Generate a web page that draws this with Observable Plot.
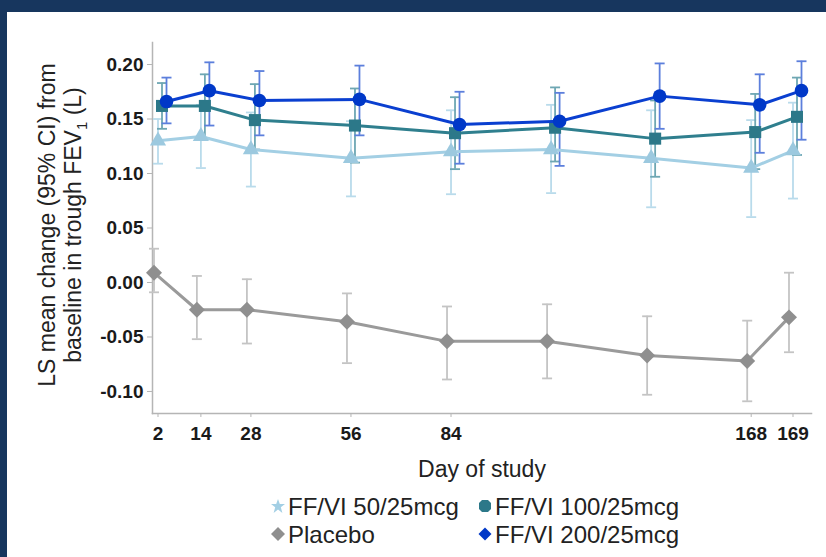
<!DOCTYPE html>
<html>
<head>
<meta charset="utf-8">
<script src="https://cdn.jsdelivr.net/npm/d3@7"></script>
<script src="https://cdn.jsdelivr.net/npm/@observablehq/plot@0.6"></script>
<style>
  html { margin: 0; padding: 0; background: #fff; overflow: hidden; }
  body { margin: 0; padding: 0; background: #fff; width: 826px; height: 557px; position: relative; overflow: hidden; font-family: "Liberation Sans", Arial, sans-serif; }
  .bar-top { position: absolute; left: 0; top: 0; width: 826px; height: 12px; background: #17365e; z-index: 5; }
  .bar-left { position: absolute; left: 0; top: 0; width: 7px; height: 557px; background: #17365e; z-index: 5; }
  .cover-right { position: absolute; left: 813px; top: 12px; width: 40px; height: 560px; background: #fff; z-index: 4; }
  #chart { position: absolute; left: 0; top: 0; width: 826px; height: 450px; }
  #chart svg { display: block; max-width: none !important; }
  #chart svg [aria-label="y-axis tick label"] text,
  #chart svg [aria-label="x-axis tick label"] text { font-size: 19px; font-weight: bold; fill: #1a1a1a; }
  .ytitle { position: absolute; left: 0; top: 0; width: 360px; text-align: center; font-size: 23px; line-height: 26px; color: #222;
            transform-origin: 0 0; transform: translate(34px, 405px) rotate(-90deg); white-space: nowrap; }
  .xtitle { position: absolute; left: 282px; width: 400px; top: 456px; text-align: center; font-size: 23px; color: #222; }
  .leg { position: absolute; font-size: 24px; color: #222; white-space: nowrap; line-height: 28px; }
  .leg svg { position: absolute; left: -17px; top: 6px; }
</style>
</head>
<body>
<div class="bar-top"></div>
<div class="bar-left"></div>
<div class="cover-right"></div>
<div id="chart"></div>
<div class="ytitle">LS mean change (95% CI) from<br>baseline in trough FEV<sub style="font-size:15px">1</sub> (L)</div>
<div class="xtitle">Day of study</div>
<div id="legend"></div>
<script>
// ---- data ----
const days = [2, 14, 28, 56, 84, 112, 140, 168, 169];
const xTickDays = [2, 14, 28, 56, 84, 168, 169];
const yTicks = [-0.10, -0.05, 0.00, 0.05, 0.10, 0.15, 0.20];

const seriesNames = ["FF/VI 50/25mcg", "FF/VI 100/25mcg", "Placebo", "FF/VI 200/25mcg"];

const placeboMean = [0.009, -0.025, -0.025, -0.036, -0.054, -0.054, -0.067, -0.072, -0.032];
const placeboLo   = [-0.009, -0.052, -0.056, -0.074, -0.089, -0.088, -0.103, -0.109, -0.064];
const placeboHi   = [0.031, 0.006, 0.003, -0.010, -0.022, -0.020, -0.031, -0.035, 0.009];

const ff50Mean = [0.130, 0.134, 0.122, 0.114, 0.120, 0.122, 0.114, 0.105, 0.121];
const ff50Lo   = [0.109, 0.105, 0.088, 0.079, 0.081, 0.082, 0.069, 0.060, 0.077];
const ff50Hi   = [0.150, 0.163, 0.156, 0.148, 0.158, 0.163, 0.158, 0.149, 0.165];

const ff100Mean = [0.162, 0.162, 0.149, 0.144, 0.137, 0.142, 0.132, 0.138, 0.152];
const ff100Lo   = [0.141, 0.132, 0.122, 0.110, 0.104, 0.111, 0.097, 0.104, 0.117];
const ff100Hi   = [0.183, 0.191, 0.182, 0.178, 0.170, 0.179, 0.167, 0.173, 0.188];

const ff200Mean = [0.166, 0.176, 0.167, 0.168, 0.145, 0.148, 0.171, 0.163, 0.176];
const ff200Lo   = [0.146, 0.144, 0.135, 0.135, 0.109, 0.107, 0.141, 0.119, 0.131];
const ff200Hi   = [0.188, 0.202, 0.194, 0.199, 0.175, 0.174, 0.201, 0.191, 0.203];

// ---- build tables ----
const rowsOf = (mean, lo, hi) => days.map((d, i) => ({day: d, mean: mean[i], lo: lo[i], hi: hi[i]}));
const tables = {
  "FF/VI 50/25mcg": rowsOf(ff50Mean, ff50Lo, ff50Hi),
  "FF/VI 100/25mcg": rowsOf(ff100Mean, ff100Lo, ff100Hi),
  "Placebo": rowsOf(placeboMean, placeboLo, placeboHi),
  "FF/VI 200/25mcg": rowsOf(ff200Mean, ff200Lo, ff200Hi)
};

// ---- styles ----
const styles = {
  "Placebo":         {line: "#9a9a9a", dot: "#8f8f8f", bar: "#c4c4c4", symbol: "diamond2", r: 7.2, dx: -4},
  "FF/VI 50/25mcg":  {line: "#a3cfe4", dot: "#9cc9df", bar: "#b9dbeb", symbol: "triangle", r: 6, dx: 0},
  "FF/VI 100/25mcg": {line: "#2f7f8e", dot: "#2c7889", bar: "#6ea7b3", symbol: "square", r: 6.8, dx: 4},
  "FF/VI 200/25mcg": {line: "#0a3fd0", dot: "#0038c8", bar: "#5c7fdc", symbol: "circle", r: 6.8, dx: 8.5}
};
const drawOrder = ["Placebo", "FF/VI 50/25mcg", "FF/VI 100/25mcg", "FF/VI 200/25mcg"];

const capSymbol = { draw(ctx, size) { const w = Math.sqrt(size / Math.PI); ctx.moveTo(-w, 0); ctx.lineTo(w, 0); } };

const marks = [
  Plot.frame({anchor: "left", stroke: "#b5b5b5", strokeWidth: 1.5}),
  Plot.frame({anchor: "bottom", stroke: "#b5b5b5", strokeWidth: 1.5}),
  Plot.axisY({ticks: yTicks, tickFormat: d => d.toFixed(2), tickSize: 5, tickPadding: 4, stroke: "#b5b5b5", fontSize: 19, fontWeight: "bold", label: null}),
  Plot.axisX({ticks: xTickDays, tickFormat: d => String(d), tickSize: 4, tickPadding: 9, stroke: "#b5b5b5", fontSize: 19, fontWeight: "bold", label: null})
];
for (const name of drawOrder) {
  const s = styles[name], t = tables[name];
  marks.push(
    Plot.ruleX(t, {x: "day", y1: "lo", y2: "hi", stroke: s.bar, strokeWidth: 1.8, dx: s.dx}),
    Plot.dot(t, {x: "day", y: "lo", symbol: capSymbol, r: 5, stroke: s.bar, strokeWidth: 1.8, fill: "none", dx: s.dx}),
    Plot.dot(t, {x: "day", y: "hi", symbol: capSymbol, r: 5, stroke: s.bar, strokeWidth: 1.8, fill: "none", dx: s.dx})
  );
}
for (const name of drawOrder) {
  const s = styles[name], t = tables[name];
  marks.push(
    Plot.line(t, {x: "day", y: "mean", stroke: s.line, strokeWidth: 3, dx: s.dx}),
    Plot.dot(t, {x: "day", y: "mean", symbol: s.symbol, r: s.r, fill: s.dot, stroke: "none", dx: s.dx})
  );
}

const chart = Plot.plot({
  width: 826, height: 450,
  marginLeft: 152, marginRight: 15, marginTop: 42, marginBottom: 37,
  style: {fontFamily: "'Liberation Sans', Arial, sans-serif", background: "transparent"},
  x: {type: "linear", domain: [0.46, 2, 168, 169, 169.42], range: [152, 157.5, 750.7, 792.5, 811], label: null},
  y: {domain: [-0.1202, 0.2202], label: null},
  marks
});
document.getElementById("chart").appendChild(chart);

// ---- legend ----
const legendPos = {
  "FF/VI 50/25mcg": [288, 493], "FF/VI 100/25mcg": [495, 493],
  "Placebo": [288, 521], "FF/VI 200/25mcg": [495, 521]
};
const legendIcons = {
  "FF/VI 50/25mcg": '<polygon points="7,0 8.8,5 14,5 9.8,8.3 11.4,14 7,10.6 2.6,14 4.2,8.3 0,5 5.2,5" fill="#a3cfe4"/>',
  "FF/VI 100/25mcg": '<polygon points="4,1 10,1 13,4 13,10 10,13 4,13 1,10 1,4" fill="#2c7889"/>',
  "Placebo": '<polygon points="7,0 14,7 7,14 0,7" fill="#8f8f8f"/>',
  "FF/VI 200/25mcg": '<polygon points="7,0.5 13.5,7 7,13.5 0.5,7" fill="#0038c8"/>'
};
const leg = document.getElementById("legend");
for (const name of seriesNames) {
  const [lx, ly] = legendPos[name];
  const el = document.createElement("div");
  el.className = "leg";
  el.style.left = lx + "px";
  el.style.top = ly + "px";
  el.innerHTML = '<svg width="14" height="14" viewBox="0 0 14 14">' + legendIcons[name] + '</svg>' + name;
  leg.appendChild(el);
}
</script>
</body>
</html>
